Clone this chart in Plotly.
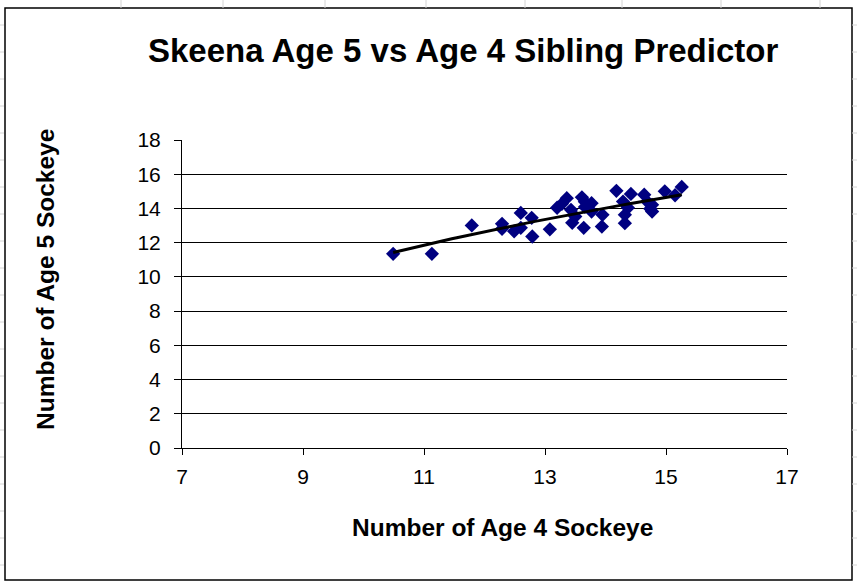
import numpy as np
import plotly.graph_objects as go

# Data
age4_sockeye = [10.49, 11.13, 11.79, 12.29, 12.29, 12.49, 12.60, 12.60, 12.78, 12.79,
                13.08, 13.20, 13.28, 13.36, 13.43, 13.45, 13.50, 13.61, 13.66, 13.66,
                13.64, 13.77, 13.77, 13.95, 13.94, 14.18, 14.29, 14.42, 14.32, 14.32,
                14.37, 14.64, 14.69, 14.77, 14.77, 14.74, 14.98, 15.15, 15.26]
age5_sockeye = [11.35, 11.35, 13.01, 13.10, 12.81, 12.66, 13.74, 12.87, 13.45, 12.36,
                12.78, 14.04, 14.27, 14.60, 13.92, 13.16, 13.53, 14.65, 14.39, 14.09,
                12.87, 14.31, 13.82, 13.63, 12.94, 15.03, 14.40, 14.85, 13.63, 13.14,
                14.04, 14.80, 14.40, 13.82, 14.21, 13.98, 15.00, 14.77, 15.26]
x_ticks = [7, 9, 11, 13, 15, 17]
y_ticks = [0, 2, 4, 6, 8, 10, 12, 14, 16, 18]

title_text = "Skeena Age 5 vs Age 4 Sibling Predictor"
x_title = "Number of Age 4 Sockeye"
y_title = "Number of Age 5 Sockeye"

# Logarithmic trendline fitted from the data
xa = np.array(age4_sockeye)
ya = np.array(age5_sockeye)
b, a = np.polyfit(np.log(xa), ya, 1)
xt = np.linspace(xa.min(), xa.max(), 60)
yt = a + b * np.log(xt)

W, H = 857, 583
L, R, T, B = 182, 70, 140, 135
PW, PH = W - L - R, H - T - B

def px(xp):
    return (xp - L) / PW

def py(yp):
    return (H - B - yp) / PH

fig = go.Figure()
fig.add_trace(go.Scatter(x=age4_sockeye, y=age5_sockeye, mode="markers",
                         marker=dict(symbol="diamond", size=11, color="#000080",
                                     line=dict(width=0)),
                         showlegend=False, hoverinfo="x+y"))
fig.add_trace(go.Scatter(x=xt, y=yt, mode="lines",
                         line=dict(color="black", width=3),
                         showlegend=False, hoverinfo="skip"))

shapes = []
# spreadsheet background lines
for xc in [121, 223, 325, 426, 525, 622, 721, 820]:
    shapes.append(dict(type="line", xref="paper", yref="paper",
                       x0=px(xc), x1=px(xc), y0=py(0), y1=py(8),
                       line=dict(color="#d4d4d4", width=1)))
for yr in range(25, 583, 27):
    shapes.append(dict(type="line", xref="paper", yref="paper",
                       x0=px(0), x1=px(4), y0=py(yr), y1=py(yr),
                       line=dict(color="#d4d4d4", width=1)))
    shapes.append(dict(type="line", xref="paper", yref="paper",
                       x0=px(852), x1=px(857), y0=py(yr), y1=py(yr),
                       line=dict(color="#d4d4d4", width=1)))
# chart border
shapes.append(dict(type="rect", xref="paper", yref="paper",
                   x0=px(5), x1=px(852), y0=py(580), y1=py(8),
                   line=dict(color="black", width=1.5), fillcolor="rgba(0,0,0,0)",
                   layer="below"))

font_family = "Liberation Sans, Arial, sans-serif"

fig.update_layout(
    width=W, height=H,
    margin=dict(l=L, r=R, t=T, b=B),
    paper_bgcolor="white", plot_bgcolor="white",
    font=dict(family=font_family, color="black"),
    shapes=shapes,
    xaxis=dict(range=[7, 17], tickvals=x_ticks, ticktext=[str(v) for v in x_ticks],
               showgrid=False, zeroline=False, showline=True, linecolor="black",
               linewidth=1, ticks="outside", ticklen=6, tickcolor="black",
               ticklabelstandoff=4,
               tickfont=dict(size=21, family=font_family, color="black")),
    yaxis=dict(range=[0, 18], tickvals=y_ticks, ticktext=[str(v) for v in y_ticks],
               showgrid=True, gridcolor="black", gridwidth=1, zeroline=False,
               showline=True, linecolor="black", linewidth=1, ticks="outside",
               ticklen=7, tickcolor="black", ticklabelstandoff=9,
               tickfont=dict(size=21, family=font_family, color="black")),
    annotations=[
        dict(text="<b>" + title_text + "</b>", xref="paper", yref="paper",
             x=px(463), y=py(50), xanchor="center", yanchor="middle",
             showarrow=False, font=dict(size=33, family=font_family, color="black")),
        dict(text="<b>" + x_title + "</b>", xref="paper", yref="paper",
             x=px(502), y=py(527), xanchor="center", yanchor="middle",
             showarrow=False, font=dict(size=24.5, family=font_family, color="black")),
        dict(text="<b>" + y_title + "</b>", xref="paper", yref="paper",
             x=px(45), y=py(280), xanchor="center", yanchor="middle", textangle=-90,
             showarrow=False, font=dict(size=24.5, family=font_family, color="black")),
    ],
)

fig.write_html("out.html", config={"displayModeBar": False},
               post_script="document.body.style.margin='0';")
